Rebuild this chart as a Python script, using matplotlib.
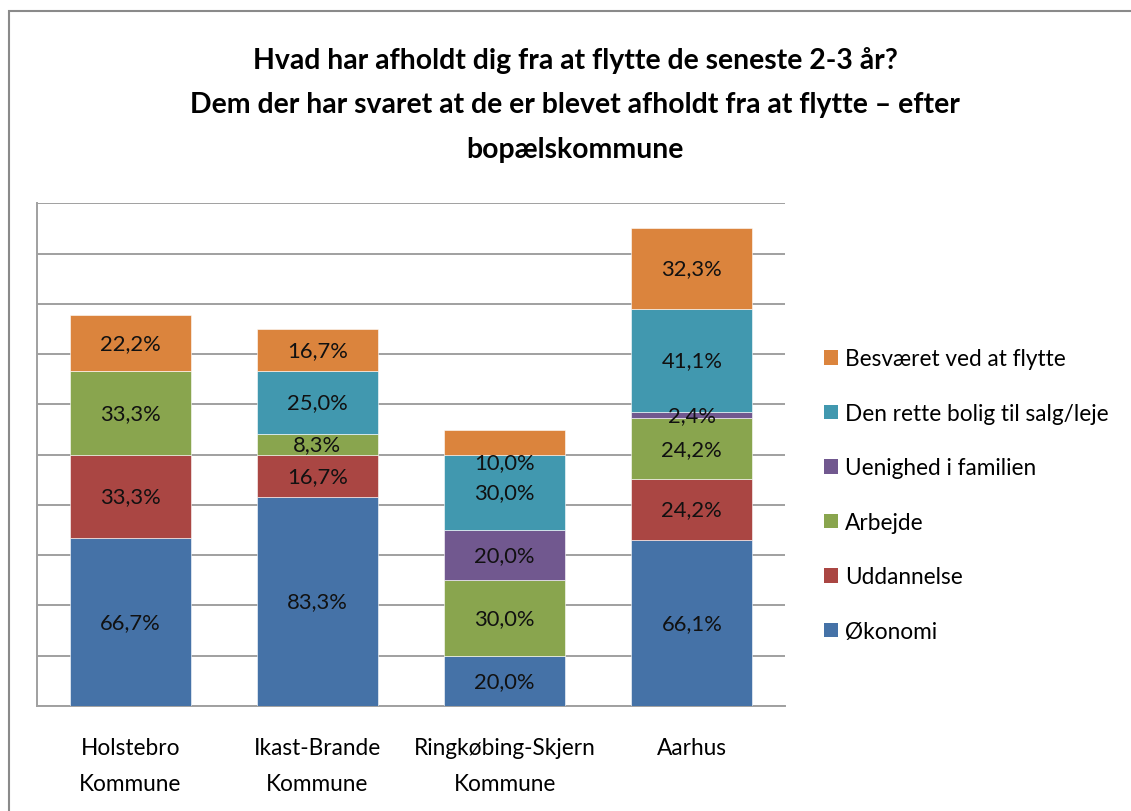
import matplotlib
matplotlib.use("Agg")
import matplotlib.pyplot as plt
from matplotlib import font_manager
from matplotlib.patches import Rectangle, Patch

# --- data -------------------------------------------------------------
categories = ["Holstebro\nKommune", "Ikast-Brande\nKommune",
              "Ringkøbing-Skjern\nKommune", "Aarhus"]

series_names = ["Økonomi", "Uddannelse", "Arbejde", "Uenighed i familien",
                "Den rette bolig til salg/leje", "Besværet ved at flytte"]

okonomi = [66.7, 83.3, 20.0, 66.1]
uddannelse = [33.3, 16.7, 0.0, 24.2]
arbejde = [33.3, 8.3, 30.0, 24.2]
uenighed = [0.0, 0.0, 20.0, 2.4]
bolig = [0.0, 25.0, 30.0, 41.1]
besvaeret = [22.2, 16.7, 10.0, 32.3]

series_values = [okonomi, uddannelse, arbejde, uenighed, bolig, besvaeret]

title = ("Hvad har afholdt dig fra at flytte de seneste 2-3 år?\n"
         "Dem der har svaret at de er blevet afholdt fra at flytte – efter\n"
         "bopælskommune")

# --- style ------------------------------------------------------------
colors = ["#4572A7", "#AA4643", "#89A54E", "#71588F", "#4198AF", "#DB843D"]
grid_color = "#a0a0a0"

available = {f.name for f in font_manager.fontManager.ttflist}
family = "DejaVu Sans"
for cand in ("Lato", "Roboto Condensed", "Roboto"):
    if cand in available:
        family = cand
        break
plt.rcParams["font.family"] = [family, "DejaVu Sans"]

fs = 16.3
label_fs = 15.8
# vertical nudges (points) for individual value labels: (series, category)
label_nudge = {(5, 2): -14.5}

fig = plt.figure(figsize=(11.31, 8.12), dpi=100)
ax = fig.add_axes([0.0323, 0.1293, 0.6622, 0.6191])

x = list(range(len(categories)))
bottoms = [0.0] * len(categories)
bar_width = 0.646
for i, (name, vals, col) in enumerate(zip(series_names, series_values, colors)):
    ax.bar(x, vals, bar_width, bottom=bottoms, color=col, label=name,
           edgecolor="white", linewidth=0.4, zorder=3)
    for j, v in enumerate(vals):
        if v > 0:
            txt = f"{v:.1f}".replace(".", ",") + "%"
            ax.annotate(txt, (x[j], bottoms[j] + v / 2),
                        xytext=(0, label_nudge.get((i, j), 0)),
                        textcoords="offset points",
                        ha="center", va="center", fontsize=label_fs,
                        color="#111111", zorder=4)
    bottoms = [b + v for b, v in zip(bottoms, vals)]

ax.set_xlim(-0.5, len(categories) - 0.5)
ax.set_ylim(0, 200)
ax.set_yticks(range(0, 201, 20))
ax.yaxis.grid(True, color=grid_color, linewidth=1.4, zorder=0)
ax.set_axisbelow(True)
ax.tick_params(axis="y", left=False, labelleft=False)
ax.tick_params(axis="x", bottom=False, pad=18.5, labelsize=fs)
ax.set_xticks(x)
ax.set_xticklabels(categories, linespacing=1.88)

for side in ("right", "top"):
    ax.spines[side].set_visible(False)
for side in ("left", "bottom"):
    ax.spines[side].set_color(grid_color)
    ax.spines[side].set_linewidth(1.4)

# legend, top entry first
handles = [Patch(facecolor=c, edgecolor="none") for c in colors][::-1]
labels = series_names[::-1]
fig.legend(handles, labels, loc="center left", bbox_to_anchor=(0.7285, 0.389),
           frameon=False, fontsize=fs, handlelength=0.62, handleheight=0.62,
           handletextpad=0.3, labelspacing=1.48, borderpad=0, borderaxespad=0)

fig.text(0.5084, 0.8707, title, ha="center", va="center", fontsize=20.4,
         fontweight="bold", linespacing=1.89)

# chart frame
fig.patches.append(Rectangle((9 / 1131, -0.1), 1.2, 1.1 - 12 / 812,
                             transform=fig.transFigure, fill=False,
                             edgecolor="#8a8a8a", linewidth=1.5, zorder=0))

fig.savefig("out.png", dpi=100)
